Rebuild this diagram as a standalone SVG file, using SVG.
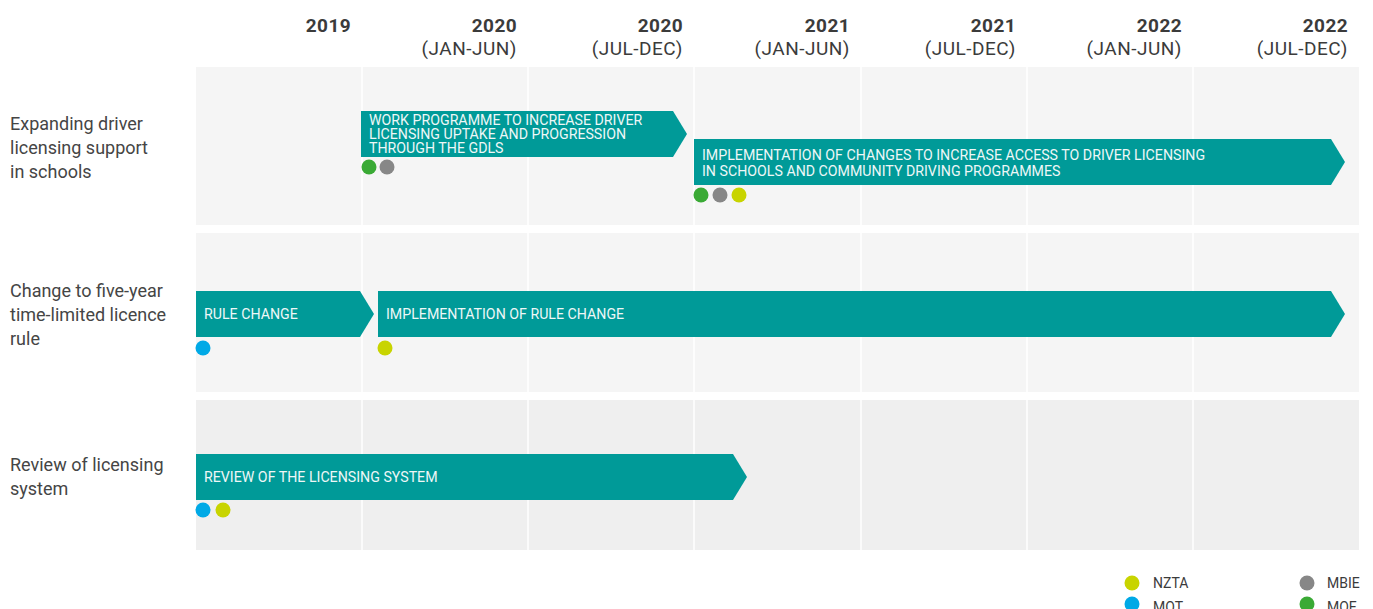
<svg xmlns="http://www.w3.org/2000/svg" width="1373" height="609" viewBox="0 0 1373 609">
<style>
.band1{fill:#f5f5f5}
.band3{fill:#efefef}
.div{stroke:#ffffff;stroke-width:1.5}
.yr{font-family:Roboto,"Liberation Sans",sans-serif;font-weight:bold;font-size:19px;letter-spacing:0.4px;fill:#3b3b3b;text-anchor:end}
.rg{font-family:Roboto,"Liberation Sans",sans-serif;font-size:19px;letter-spacing:0.5px;fill:#3b3b3b;text-anchor:end}
.lbl{font-family:Roboto,"Liberation Sans",sans-serif;font-size:18px;fill:#454545}
.bar{fill:#009a98}
.bt{font-family:Roboto,"Liberation Sans",sans-serif;font-size:14.2px;fill:#eef7f7}
.lg{font-family:Roboto,"Liberation Sans",sans-serif;font-size:14px;fill:#3b3b3b}
.g{fill:#3aaa35}.m{fill:#878787}.y{fill:#c8d400}.b{fill:#00a9e6}
</style>
<rect width="1373" height="609" fill="#ffffff"/>
<g id="bands">
<rect class="band1" x="196" y="67" width="1163" height="158"/>
<rect class="band1" x="196" y="233" width="1163" height="159"/>
<rect class="band3" x="196" y="400" width="1163" height="150"/>
<g class="div">
<line x1="362" y1="67" x2="362" y2="550"/>
<line x1="528" y1="67" x2="528" y2="550"/>
<line x1="694" y1="67" x2="694" y2="550"/>
<line x1="861" y1="67" x2="861" y2="550"/>
<line x1="1027" y1="67" x2="1027" y2="550"/>
<line x1="1193" y1="67" x2="1193" y2="550"/>
</g>
</g>
<g id="header">
<text class="yr" x="351" y="32">2019</text>
<text class="yr" x="517" y="32">2020</text><text class="rg" x="517" y="55">(JAN-JUN)</text>
<text class="yr" x="683" y="32">2020</text><text class="rg" x="683" y="55">(JUL-DEC)</text>
<text class="yr" x="850" y="32">2021</text><text class="rg" x="850" y="55">(JAN-JUN)</text>
<text class="yr" x="1016" y="32">2021</text><text class="rg" x="1016" y="55">(JUL-DEC)</text>
<text class="yr" x="1182" y="32">2022</text><text class="rg" x="1182" y="55">(JAN-JUN)</text>
<text class="yr" x="1348" y="32">2022</text><text class="rg" x="1348" y="55">(JUL-DEC)</text>
</g>
<g id="row-labels">
<text class="lbl" x="10" y="130">Expanding driver</text>
<text class="lbl" x="10" y="154">licensing support</text>
<text class="lbl" x="10" y="178">in schools</text>
<text class="lbl" x="10" y="297">Change to five-year</text>
<text class="lbl" x="10" y="321">time-limited licence</text>
<text class="lbl" x="10" y="345">rule</text>
<text class="lbl" x="10" y="471">Review of licensing</text>
<text class="lbl" x="10" y="495">system</text>
</g>
<g id="bar-work-programme">
<polygon class="bar" points="361,111 673,111 687,134 673,157 361,157"/>
<text class="bt" x="369" y="125">WORK PROGRAMME TO INCREASE DRIVER</text>
<text class="bt" x="369" y="139">LICENSING UPTAKE AND PROGRESSION</text>
<text class="bt" x="369" y="153">THROUGH THE GDLS</text>
<circle class="g" cx="369" cy="167" r="7.5"/>
<circle class="m" cx="387" cy="167" r="7.5"/>
</g>
<g id="bar-implementation-schools">
<polygon class="bar" points="694,139 1331,139 1345,162 1331,185 694,185"/>
<text class="bt" x="702" y="160">IMPLEMENTATION OF CHANGES TO INCREASE ACCESS TO DRIVER LICENSING</text>
<text class="bt" x="702" y="176">IN SCHOOLS AND COMMUNITY DRIVING PROGRAMMES</text>
<circle class="g" cx="701" cy="195" r="7.5"/>
<circle class="m" cx="720" cy="195" r="7.5"/>
<circle class="y" cx="739" cy="195" r="7.5"/>
</g>
<g id="bar-rule-change">
<polygon class="bar" points="196,291 360,291 374,314 360,337 196,337"/>
<text class="bt" x="204" y="319">RULE CHANGE</text>
<circle class="b" cx="203" cy="348" r="7.5"/>
</g>
<g id="bar-implementation-rule">
<polygon class="bar" points="378,291 1331,291 1345,314 1331,337 378,337"/>
<text class="bt" x="386" y="319">IMPLEMENTATION OF RULE CHANGE</text>
<circle class="y" cx="385" cy="348" r="7.5"/>
</g>
<g id="bar-review">
<polygon class="bar" points="196,454 733,454 747,477 733,500 196,500"/>
<text class="bt" x="204" y="482">REVIEW OF THE LICENSING SYSTEM</text>
<circle class="b" cx="203" cy="510" r="7.5"/>
<circle class="y" cx="223" cy="510" r="7.5"/>
</g>
<g id="legend">
<circle class="y" cx="1132" cy="583" r="7.5"/><text class="lg" x="1153" y="588">NZTA</text>
<circle class="b" cx="1132" cy="604" r="7.5"/><text class="lg" x="1153" y="612">MOT</text>
<circle class="m" cx="1307" cy="583" r="7.5"/><text class="lg" x="1327" y="588">MBIE</text>
<circle class="g" cx="1307" cy="604" r="7.5"/><text class="lg" x="1327" y="612">MOE</text>
</g>
</svg>
